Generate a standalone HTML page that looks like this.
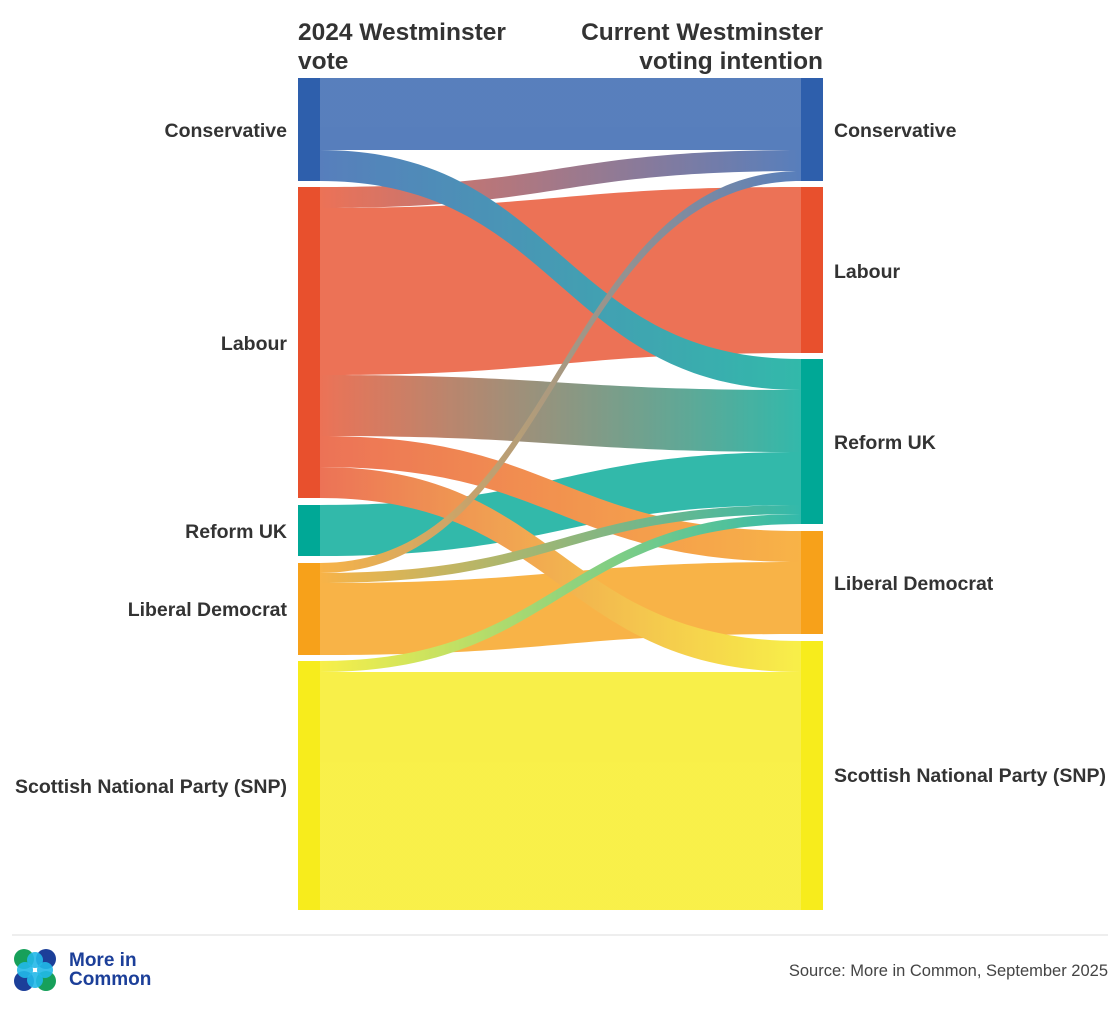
<!DOCTYPE html>
<html><head><meta charset="utf-8"><style>
body{margin:0;background:#fff;width:1120px;height:1008px;overflow:hidden;font-family:"Liberation Sans",sans-serif}
</style></head><body>
<svg width="1120" height="1008" xmlns="http://www.w3.org/2000/svg" font-family="Liberation Sans, sans-serif">
<defs>
<linearGradient id="gCC" x1="320" x2="801" gradientUnits="userSpaceOnUse"><stop offset="0" stop-color="#2e5fac"/><stop offset="1" stop-color="#2e5fac"/></linearGradient>
<linearGradient id="gCR" x1="320" x2="801" gradientUnits="userSpaceOnUse"><stop offset="0" stop-color="#2e5fac"/><stop offset="1" stop-color="#00a896"/></linearGradient>
<linearGradient id="gLC" x1="320" x2="801" gradientUnits="userSpaceOnUse"><stop offset="0" stop-color="#e8502d"/><stop offset="1" stop-color="#2e5fac"/></linearGradient>
<linearGradient id="gLL" x1="320" x2="801" gradientUnits="userSpaceOnUse"><stop offset="0" stop-color="#e8502d"/><stop offset="1" stop-color="#e8502d"/></linearGradient>
<linearGradient id="gLR" x1="320" x2="801" gradientUnits="userSpaceOnUse"><stop offset="0" stop-color="#e8502d"/><stop offset="1" stop-color="#00a896"/></linearGradient>
<linearGradient id="gLD" x1="320" x2="801" gradientUnits="userSpaceOnUse"><stop offset="0" stop-color="#e8502d"/><stop offset="1" stop-color="#f7a11a"/></linearGradient>
<linearGradient id="gLS" x1="320" x2="801" gradientUnits="userSpaceOnUse"><stop offset="0" stop-color="#e8502d"/><stop offset="1" stop-color="#f7ec1c"/></linearGradient>
<linearGradient id="gRR" x1="320" x2="801" gradientUnits="userSpaceOnUse"><stop offset="0" stop-color="#00a896"/><stop offset="1" stop-color="#00a896"/></linearGradient>
<linearGradient id="gDC" x1="320" x2="801" gradientUnits="userSpaceOnUse"><stop offset="0" stop-color="#f7a11a"/><stop offset="1" stop-color="#2e5fac"/></linearGradient>
<linearGradient id="gDR" x1="320" x2="801" gradientUnits="userSpaceOnUse"><stop offset="0" stop-color="#f7a11a"/><stop offset="1" stop-color="#00a896"/></linearGradient>
<linearGradient id="gDD" x1="320" x2="801" gradientUnits="userSpaceOnUse"><stop offset="0" stop-color="#f7a11a"/><stop offset="1" stop-color="#f7a11a"/></linearGradient>
<linearGradient id="gSR" x1="320" x2="801" gradientUnits="userSpaceOnUse"><stop offset="0" stop-color="#f7ec1c"/><stop offset="1" stop-color="#00a896"/></linearGradient>
<linearGradient id="gSS" x1="320" x2="801" gradientUnits="userSpaceOnUse"><stop offset="0" stop-color="#f7ec1c"/><stop offset="1" stop-color="#f7ec1c"/></linearGradient>
</defs>
<g opacity="0.8">
<path d="M320,78 C560,78 560,78 801,78 L801,150 C560,150 560,150 320,150Z" fill="url(#gCC)"/>
<path d="M320,672 C560,672 560,672 801,672 L801,910 C560,910 560,910 320,910Z" fill="url(#gSS)"/>
<path d="M320,208 C560,208 560,187 801,187 L801,353 C560,353 560,375 320,375Z" fill="url(#gLL)"/>
<path d="M320,583 C560,583 560,562 801,562 L801,634 C560,634 560,655 320,655Z" fill="url(#gDD)"/>
<path d="M320,505 C560,505 560,452 801,452 L801,505 C560,505 560,556 320,556Z" fill="url(#gRR)"/>
<path d="M320,375 C560,375 560,390 801,390 L801,452 C560,452 560,436 320,436Z" fill="url(#gLR)"/>
<path d="M320,436 C560,436 560,531 801,531 L801,562 C560,562 560,467 320,467Z" fill="url(#gLD)"/>
<path d="M320,467 C560,467 560,641 801,641 L801,672 C560,672 560,498 320,498Z" fill="url(#gLS)"/>
<path d="M320,187 C560,187 560,150 801,150 L801,171 C560,171 560,208 320,208Z" fill="url(#gLC)"/>
<path d="M320,150 C560,150 560,359 801,359 L801,390 C560,390 560,181 320,181Z" fill="url(#gCR)"/>
<path d="M320,563 C560,563 560,171 801,171 L801,181 C560,181 560,573 320,573Z" fill="url(#gDC)"/>
<path d="M320,573 C560,573 560,505 801,505 L801,514 C560,514 560,583 320,583Z" fill="url(#gDR)"/>
<path d="M320,661 C560,661 560,514 801,514 L801,524 C560,524 560,672 320,672Z" fill="url(#gSR)"/>
</g>
<rect x="298" y="78" width="22" height="103" fill="#2e5fac"/>
<rect x="298" y="187" width="22" height="311" fill="#e8502d"/>
<rect x="298" y="505" width="22" height="51" fill="#00a896"/>
<rect x="298" y="563" width="22" height="92" fill="#f7a11a"/>
<rect x="298" y="661" width="22" height="249" fill="#f7ec1c"/>
<rect x="801" y="78" width="22" height="103" fill="#2e5fac"/>
<rect x="801" y="187" width="22" height="166" fill="#e8502d"/>
<rect x="801" y="359" width="22" height="165" fill="#00a896"/>
<rect x="801" y="531" width="22" height="103" fill="#f7a11a"/>
<rect x="801" y="641" width="22" height="269" fill="#f7ec1c"/>
<g font-weight="bold" fill="#333" font-size="19.5">
<g text-anchor="end">
<text x="287" y="137">Conservative</text>
<text x="287" y="350">Labour</text>
<text x="287" y="538">Reform UK</text>
<text x="287" y="616">Liberal Democrat</text>
<text x="287" y="793">Scottish National Party (SNP)</text>
</g>
<text x="834" y="137">Conservative</text>
<text x="834" y="278">Labour</text>
<text x="834" y="449">Reform UK</text>
<text x="834" y="590">Liberal Democrat</text>
<text x="834" y="782">Scottish National Party (SNP)</text>
</g>
<g font-weight="bold" fill="#333" font-size="24.5">
<text x="298" y="40">2024 Westminster</text>
<text x="298" y="69">vote</text>
<text x="823" y="40" text-anchor="end">Current Westminster</text>
<text x="823" y="69" text-anchor="end">voting intention</text>
</g>
<line x1="12" y1="935" x2="1108" y2="935" stroke="#ddd" stroke-width="1"/>
<g>
<circle cx="24" cy="959" r="10" fill="#17a05a"/>
<circle cx="46" cy="959" r="10" fill="#1c3f99"/>
<circle cx="24" cy="981" r="10" fill="#1c3f99"/>
<circle cx="46" cy="981" r="10" fill="#17a05a"/>
<circle cx="35" cy="960" r="8" fill="#22b8e8" opacity="0.9"/>
<circle cx="35" cy="980" r="8" fill="#22b8e8" opacity="0.9"/>
<circle cx="25" cy="970" r="8" fill="#22b8e8" opacity="0.9"/>
<circle cx="45" cy="970" r="8" fill="#22b8e8" opacity="0.9"/>
</g>
<text x="69" y="966" font-size="19" font-weight="bold" fill="#1c3f99">More in</text>
<text x="69" y="985" font-size="19" font-weight="bold" fill="#1c3f99">Common</text>
<text x="1108" y="976" text-anchor="end" font-size="16.5" fill="#444">Source: More in Common, September 2025</text>
</svg>
</body></html>
